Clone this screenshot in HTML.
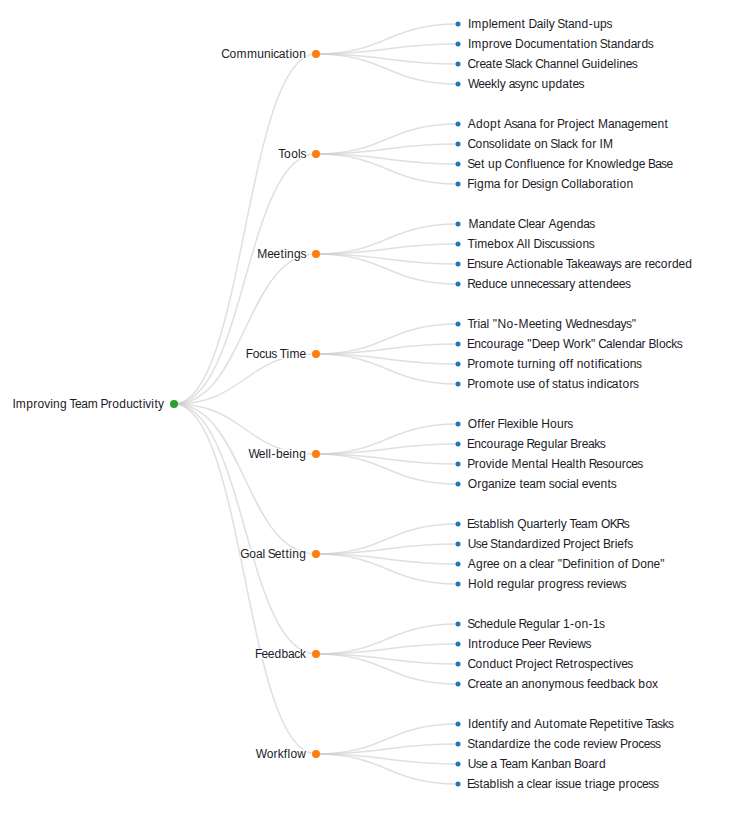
<!DOCTYPE html>
<html lang="en"><head><meta charset="utf-8"><title>Improving Team Productivity</title>
<style>
html,body{margin:0;padding:0;background:#fff;}
body{width:729px;height:813px;overflow:hidden;}
svg{display:block;font-family:"Liberation Sans",sans-serif;font-size:12px;}
.links path{fill:none;stroke:#ccc;stroke-opacity:0.6;stroke-width:1.5;}
text{fill:#1c1c28;}
</style></head><body>
<svg width="729" height="813" viewBox="0 0 729 813">
<g class="links">
<path d="M174,404C245.0,404 245.0,54 316,54"/>
<path d="M316,54C387.0,54 387.0,24.0 458,24.0"/>
<path d="M316,54C387.0,54 387.0,44.0 458,44.0"/>
<path d="M316,54C387.0,54 387.0,64.0 458,64.0"/>
<path d="M316,54C387.0,54 387.0,84.0 458,84.0"/>
<path d="M174,404C245.0,404 245.0,154 316,154"/>
<path d="M316,154C387.0,154 387.0,124.0 458,124.0"/>
<path d="M316,154C387.0,154 387.0,144.0 458,144.0"/>
<path d="M316,154C387.0,154 387.0,164.0 458,164.0"/>
<path d="M316,154C387.0,154 387.0,184.0 458,184.0"/>
<path d="M174,404C245.0,404 245.0,254 316,254"/>
<path d="M316,254C387.0,254 387.0,224.0 458,224.0"/>
<path d="M316,254C387.0,254 387.0,244.0 458,244.0"/>
<path d="M316,254C387.0,254 387.0,264.0 458,264.0"/>
<path d="M316,254C387.0,254 387.0,284.0 458,284.0"/>
<path d="M174,404C245.0,404 245.0,354 316,354"/>
<path d="M316,354C387.0,354 387.0,324.0 458,324.0"/>
<path d="M316,354C387.0,354 387.0,344.0 458,344.0"/>
<path d="M316,354C387.0,354 387.0,364.0 458,364.0"/>
<path d="M316,354C387.0,354 387.0,384.0 458,384.0"/>
<path d="M174,404C245.0,404 245.0,454 316,454"/>
<path d="M316,454C387.0,454 387.0,424.0 458,424.0"/>
<path d="M316,454C387.0,454 387.0,444.0 458,444.0"/>
<path d="M316,454C387.0,454 387.0,464.0 458,464.0"/>
<path d="M316,454C387.0,454 387.0,484.0 458,484.0"/>
<path d="M174,404C245.0,404 245.0,554 316,554"/>
<path d="M316,554C387.0,554 387.0,524.0 458,524.0"/>
<path d="M316,554C387.0,554 387.0,544.0 458,544.0"/>
<path d="M316,554C387.0,554 387.0,564.0 458,564.0"/>
<path d="M316,554C387.0,554 387.0,584.0 458,584.0"/>
<path d="M174,404C245.0,404 245.0,654 316,654"/>
<path d="M316,654C387.0,654 387.0,624.0 458,624.0"/>
<path d="M316,654C387.0,654 387.0,644.0 458,644.0"/>
<path d="M316,654C387.0,654 387.0,664.0 458,664.0"/>
<path d="M316,654C387.0,654 387.0,684.0 458,684.0"/>
<path d="M174,404C245.0,404 245.0,754 316,754"/>
<path d="M316,754C387.0,754 387.0,724.0 458,724.0"/>
<path d="M316,754C387.0,754 387.0,744.0 458,744.0"/>
<path d="M316,754C387.0,754 387.0,764.0 458,764.0"/>
<path d="M316,754C387.0,754 387.0,784.0 458,784.0"/>
</g>
<g class="halos" fill="#fff">
<rect x="11.79" y="399.50" width="152.91" height="9.30" rx="2"/>
<rect x="221.24" y="49.50" width="85.46" height="9.30" rx="2"/>
<rect x="467.30" y="19.50" width="145.46" height="9.30" rx="2"/>
<rect x="467.30" y="39.50" width="186.76" height="9.30" rx="2"/>
<rect x="467.30" y="59.50" width="170.80" height="9.30" rx="2"/>
<rect x="467.30" y="79.50" width="117.40" height="9.30" rx="2"/>
<rect x="278.11" y="149.50" width="28.59" height="9.30" rx="2"/>
<rect x="467.30" y="119.50" width="201.60" height="9.30" rx="2"/>
<rect x="467.30" y="139.50" width="146.89" height="9.30" rx="2"/>
<rect x="467.30" y="159.50" width="206.33" height="9.30" rx="2"/>
<rect x="467.30" y="179.50" width="166.57" height="9.30" rx="2"/>
<rect x="256.06" y="249.50" width="50.64" height="9.30" rx="2"/>
<rect x="467.30" y="219.50" width="128.16" height="9.30" rx="2"/>
<rect x="467.30" y="239.50" width="127.69" height="9.30" rx="2"/>
<rect x="467.30" y="259.50" width="225.54" height="9.30" rx="2"/>
<rect x="467.30" y="279.50" width="163.83" height="9.30" rx="2"/>
<rect x="245.89" y="349.50" width="60.81" height="9.30" rx="2"/>
<rect x="467.30" y="319.50" width="169.58" height="9.30" rx="2"/>
<rect x="467.30" y="339.50" width="215.81" height="9.30" rx="2"/>
<rect x="467.30" y="359.50" width="175.01" height="9.30" rx="2"/>
<rect x="467.30" y="379.50" width="172.03" height="9.30" rx="2"/>
<rect x="247.90" y="449.50" width="58.80" height="9.30" rx="2"/>
<rect x="467.30" y="419.50" width="106.29" height="9.30" rx="2"/>
<rect x="467.30" y="439.50" width="138.78" height="9.30" rx="2"/>
<rect x="467.30" y="459.50" width="176.23" height="9.30" rx="2"/>
<rect x="467.30" y="479.50" width="149.67" height="9.30" rx="2"/>
<rect x="240.20" y="549.50" width="66.50" height="9.30" rx="2"/>
<rect x="467.30" y="519.50" width="162.80" height="9.30" rx="2"/>
<rect x="467.30" y="539.50" width="166.08" height="9.30" rx="2"/>
<rect x="467.30" y="559.50" width="198.16" height="9.30" rx="2"/>
<rect x="467.30" y="579.50" width="159.35" height="9.30" rx="2"/>
<rect x="255.16" y="649.50" width="51.54" height="9.30" rx="2"/>
<rect x="467.30" y="619.50" width="137.91" height="9.30" rx="2"/>
<rect x="467.30" y="639.50" width="124.49" height="9.30" rx="2"/>
<rect x="467.30" y="659.50" width="166.21" height="9.30" rx="2"/>
<rect x="467.30" y="679.50" width="191.18" height="9.30" rx="2"/>
<rect x="255.23" y="749.50" width="51.47" height="9.30" rx="2"/>
<rect x="467.30" y="719.50" width="206.89" height="9.30" rx="2"/>
<rect x="467.30" y="739.50" width="193.91" height="9.30" rx="2"/>
<rect x="467.30" y="759.50" width="139.16" height="9.30" rx="2"/>
<rect x="467.30" y="779.50" width="192.04" height="9.30" rx="2"/>
</g>
<g class="nodes">
<circle cx="174" cy="404" r="4" fill="#2ca02c"/>
<circle cx="316" cy="54" r="4" fill="#ff7f0e"/>
<circle cx="458" cy="24.0" r="2.5" fill="#1f77b4"/>
<circle cx="458" cy="44.0" r="2.5" fill="#1f77b4"/>
<circle cx="458" cy="64.0" r="2.5" fill="#1f77b4"/>
<circle cx="458" cy="84.0" r="2.5" fill="#1f77b4"/>
<circle cx="316" cy="154" r="4" fill="#ff7f0e"/>
<circle cx="458" cy="124.0" r="2.5" fill="#1f77b4"/>
<circle cx="458" cy="144.0" r="2.5" fill="#1f77b4"/>
<circle cx="458" cy="164.0" r="2.5" fill="#1f77b4"/>
<circle cx="458" cy="184.0" r="2.5" fill="#1f77b4"/>
<circle cx="316" cy="254" r="4" fill="#ff7f0e"/>
<circle cx="458" cy="224.0" r="2.5" fill="#1f77b4"/>
<circle cx="458" cy="244.0" r="2.5" fill="#1f77b4"/>
<circle cx="458" cy="264.0" r="2.5" fill="#1f77b4"/>
<circle cx="458" cy="284.0" r="2.5" fill="#1f77b4"/>
<circle cx="316" cy="354" r="4" fill="#ff7f0e"/>
<circle cx="458" cy="324.0" r="2.5" fill="#1f77b4"/>
<circle cx="458" cy="344.0" r="2.5" fill="#1f77b4"/>
<circle cx="458" cy="364.0" r="2.5" fill="#1f77b4"/>
<circle cx="458" cy="384.0" r="2.5" fill="#1f77b4"/>
<circle cx="316" cy="454" r="4" fill="#ff7f0e"/>
<circle cx="458" cy="424.0" r="2.5" fill="#1f77b4"/>
<circle cx="458" cy="444.0" r="2.5" fill="#1f77b4"/>
<circle cx="458" cy="464.0" r="2.5" fill="#1f77b4"/>
<circle cx="458" cy="484.0" r="2.5" fill="#1f77b4"/>
<circle cx="316" cy="554" r="4" fill="#ff7f0e"/>
<circle cx="458" cy="524.0" r="2.5" fill="#1f77b4"/>
<circle cx="458" cy="544.0" r="2.5" fill="#1f77b4"/>
<circle cx="458" cy="564.0" r="2.5" fill="#1f77b4"/>
<circle cx="458" cy="584.0" r="2.5" fill="#1f77b4"/>
<circle cx="316" cy="654" r="4" fill="#ff7f0e"/>
<circle cx="458" cy="624.0" r="2.5" fill="#1f77b4"/>
<circle cx="458" cy="644.0" r="2.5" fill="#1f77b4"/>
<circle cx="458" cy="664.0" r="2.5" fill="#1f77b4"/>
<circle cx="458" cy="684.0" r="2.5" fill="#1f77b4"/>
<circle cx="316" cy="754" r="4" fill="#ff7f0e"/>
<circle cx="458" cy="724.0" r="2.5" fill="#1f77b4"/>
<circle cx="458" cy="744.0" r="2.5" fill="#1f77b4"/>
<circle cx="458" cy="764.0" r="2.5" fill="#1f77b4"/>
<circle cx="458" cy="784.0" r="2.5" fill="#1f77b4"/>
</g>
<g class="labels">
<text x="12.42 15.85 26.21 33.16 37.43 44.16 50.15 52.99 59.91 66.75 69.54 74.98 81.17 87.73 97.88 100.55 108.00 112.27 119.31 126.23 132.73 138.87 142.69 145.35 151.35 154.50 158.10" y="408">Improving Team Productivity</text>
<text x="221.32 229.55 236.58 246.91 257.14 263.92 270.77 273.33 278.82 285.57 289.39 292.36 299.27" y="58">Communication</text>
<text x="467.93 471.36 481.72 488.70 491.29 497.94 507.91 514.44 521.54 525.22 528.40 536.66 543.17 546.08 548.77 554.64 557.14 564.69 568.10 574.55 581.47 588.74 593.19 600.11 606.52" y="28.0">Implement Daily Stand-ups</text>
<text x="467.93 471.36 481.72 488.67 492.94 499.67 505.34 511.80 514.99 523.71 530.34 536.17 543.06 553.03 559.57 566.66 570.08 576.83 580.66 583.62 590.53 597.24 599.73 607.29 610.70 617.15 624.07 630.65 637.12 641.40 647.81" y="48.0">Improve Documentation Standards</text>
<text x="467.38 475.52 479.41 485.60 492.35 495.86 502.31 504.81 512.11 514.61 520.78 526.53 532.49 535.18 543.28 549.73 556.17 562.96 569.49 576.09 578.85 581.62 590.46 597.31 600.28 606.95 613.55 616.46 619.30 625.83 631.85" y="68.0">Create Slack Channel Guidelines</text>
<text x="467.93 478.23 484.51 490.97 497.07 499.76 505.63 508.66 514.60 520.04 526.00 532.50 538.25 541.61 548.53 555.59 562.17 568.92 572.43 578.45" y="88.0">Weekly async updates</text>
<text x="278.29 284.11 291.15 298.12 300.45" y="158">Tools</text>
<text x="467.87 475.93 482.98 490.02 497.25 500.93 504.11 511.53 516.79 523.23 529.68 536.04 539.57 543.29 550.24 554.30 556.97 564.42 568.69 575.66 578.25 584.50 590.64 594.32 598.02 608.12 614.56 621.01 627.59 634.26 640.90 650.87 657.41 664.50" y="128.0">Adopt Asana for Project Management</text>
<text x="467.38 475.61 482.52 488.80 494.53 501.50 504.41 507.38 513.96 520.72 524.22 530.68 534.17 541.08 547.79 550.28 557.59 560.09 566.25 572.00 577.96 581.48 585.21 592.15 596.21 599.46 603.11" y="148.0">Consolidate on Slack for IM</text>
<text x="467.18 474.17 481.02 484.69 488.06 494.98 501.82 504.51 512.74 519.65 526.59 530.26 533.10 539.63 546.17 552.67 558.24 564.70 568.22 571.95 578.89 582.95 585.74 593.28 600.19 607.04 615.82 618.41 625.08 632.14 638.80 645.26 648.01 655.16 661.10 666.45" y="168.0">Set up Confluence for Knowledge Base</text>
<text x="467.26 473.97 476.95 483.98 493.87 500.23 503.75 507.48 514.42 518.48 521.67 530.02 536.04 541.71 544.68 551.60 558.31 561.00 569.23 576.21 579.11 581.62 588.20 595.24 602.19 605.99 612.74 616.56 619.53 626.44" y="188.0">Figma for Design Collaboration</text>
<text x="257.15 267.34 273.62 280.46 284.28 287.12 294.04 300.45" y="258">Meetings</text>
<text x="468.39 478.49 484.94 491.86 498.44 505.19 508.70 515.15 517.84 526.01 528.60 534.79 541.27 545.33 548.51 556.57 563.24 569.77 576.69 583.27 589.21" y="228.0">Mandate Clear Agendas</text>
<text x="467.48 474.41 477.36 487.33 494.00 501.05 507.66 513.39 516.57 524.56 527.46 530.23 533.41 542.08 544.41 549.73 555.55 561.83 566.92 572.59 575.55 582.47 588.74" y="248.0">Timebox All Discussions</text>
<text x="467.03 474.13 480.40 486.00 492.82 496.71 503.16 506.34 513.98 520.12 523.94 526.91 533.82 540.27 546.85 553.83 556.42 562.88 565.66 571.02 577.39 583.17 589.37 595.75 604.13 610.42 615.86 621.39 624.41 630.89 634.78 641.23 644.63 648.52 654.77 660.72 667.66 671.94 678.61 685.27" y="268.0">Ensure Actionable Takeaways are recorded</text>
<text x="467.26 474.98 481.65 488.57 495.07 500.65 507.10 510.47 517.25 524.04 530.57 536.82 542.39 548.42 553.51 558.77 565.25 569.23 575.11 578.14 584.89 588.96 592.46 599.00 605.92 612.58 618.86 624.89" y="288.0">Reduce unnecessary attendees</text>
<text x="245.85 252.63 259.25 265.08 271.36 276.88 279.67 286.60 289.55 299.52" y="358">Focus Time</text>
<text x="467.48 473.26 477.47 479.97 486.48 489.24 492.77 497.41 506.41 513.67 518.46 528.65 534.93 541.77 545.59 548.43 555.35 562.20 565.44 575.73 582.40 589.32 595.85 601.88 607.61 614.19 620.48 625.93 631.70" y="328.0">Trial "No-Meeting Wednesdays"</text>
<text x="467.03 474.13 480.63 486.58 493.49 500.31 504.11 510.69 517.36 523.81 527.34 531.70 540.05 546.33 553.00 559.84 563.08 573.87 580.82 584.88 591.09 595.55 598.24 606.00 612.51 615.10 621.64 628.56 635.14 641.61 645.67 648.42 655.98 658.95 665.58 671.33 676.86" y="348.0">Encourage "Deep Work" Calendar Blocks</text>
<text x="467.36 474.81 479.08 486.11 496.45 503.67 507.18 513.63 517.31 521.07 527.88 532.02 538.87 541.71 548.63 555.47 558.97 566.03 569.79 573.31 576.68 583.59 590.81 594.63 597.63 601.29 603.85 609.34 616.09 619.91 622.88 629.79 636.07" y="368.0">Promote turning off notifications</text>
<text x="467.36 474.81 479.08 486.11 496.45 503.67 507.18 513.63 517.00 523.27 528.62 535.08 538.57 545.64 549.16 552.01 557.93 561.34 568.10 571.85 578.13 583.65 587.08 589.92 596.84 603.83 606.39 611.87 618.63 622.51 629.46 633.08" y="388.0">Promote use of status indicators</text>
<text x="248.53 258.83 265.43 268.33 271.52 276.11 282.78 289.37 292.22 299.14" y="458">Well-being</text>
<text x="467.86 477.26 481.01 484.36 490.93 494.99 497.56 504.27 506.86 513.09 518.97 521.94 528.93 531.52 537.97 541.21 549.98 556.90 563.71 567.34" y="428.0">Offer Flexible Hours</text>
<text x="467.03 474.13 480.63 486.58 493.49 500.31 504.11 510.69 517.36 523.81 526.38 534.10 540.77 547.69 554.54 557.04 563.52 567.58 570.33 577.86 581.75 587.94 594.31 599.84" y="448.0">Encourage Regular Breaks</text>
<text x="467.36 474.81 479.08 485.81 491.80 494.78 501.45 507.90 511.60 521.79 528.33 535.42 538.84 545.35 548.11 551.35 559.74 565.94 572.45 575.60 579.35 586.06 588.63 596.35 602.38 608.10 615.01 621.83 625.69 631.26 637.29" y="468.0">Provide Mental Health Resources</text>
<text x="467.86 477.13 481.41 487.99 494.43 501.28 503.78 509.30 515.75 519.43 522.93 529.13 535.69 545.83 548.69 554.41 561.04 566.93 569.43 575.94 578.71 581.82 588.17 593.85 600.38 607.48 610.73" y="488.0">Organize team social events</text>
<text x="240.35 249.32 255.89 262.40 265.16 267.65 274.64 281.49 285.55 289.37 292.22 299.14" y="558">Goal Setting</text>
<text x="467.03 473.62 479.53 482.94 489.52 496.51 499.42 501.75 507.35 514.05 517.22 526.47 532.91 539.39 543.84 547.34 553.91 558.11 560.80 566.68 569.47 574.91 581.10 587.66 597.80 600.97 609.64 616.38 623.85" y="528.0">Establish Quarterly Team OKRs</text>
<text x="467.79 475.79 481.14 487.59 490.09 497.64 501.06 507.50 514.42 521.00 527.48 531.75 538.74 541.24 546.75 553.42 560.26 562.93 570.39 574.65 581.63 584.22 590.47 596.60 600.28 603.03 610.56 614.76 617.35 624.04 627.13" y="548.0">Use Standardized Project Briefs</text>
<text x="467.87 475.93 482.88 486.77 493.05 499.51 503.00 509.91 516.62 519.64 526.01 529.09 534.98 537.57 543.76 550.24 554.30 557.84 562.20 570.54 577.23 580.90 583.74 590.59 593.74 597.56 600.53 607.44 614.14 617.64 624.70 628.22 631.41 640.14 647.05 653.58 660.28" y="568.0">Agree on a clear "Definition of Done"</text>
<text x="467.93 476.70 483.68 486.65 493.49 496.89 500.78 507.45 514.37 521.22 523.72 530.20 534.26 537.76 544.71 548.98 556.02 562.97 566.86 572.89 577.98 583.50 586.90 590.79 597.14 603.13 605.72 612.19 620.40" y="588.0">Hold regular progress reviews</text>
<text x="255.12 261.52 267.80 274.47 281.52 288.10 294.26 300.02" y="658">Feedback</text>
<text x="467.18 474.14 479.97 486.50 493.17 500.09 506.94 509.53 515.98 518.55 526.27 532.94 539.86 546.71 549.21 555.69 559.75 562.96 569.93 574.51 581.42 588.55 592.85 598.97" y="628.0">Schedule Regular 1-on-1s</text>
<text x="467.93 471.25 478.34 482.13 486.40 493.44 500.36 506.87 512.44 518.89 521.57 528.74 535.02 541.58 545.64 548.21 555.93 562.29 568.28 570.87 577.34 585.55" y="648.0">Introduce Peer Reviews</text>
<text x="467.38 475.61 482.52 489.44 496.36 502.86 509.00 512.68 515.35 522.80 527.07 534.04 536.63 542.88 549.02 552.70 555.26 562.99 569.83 573.62 577.89 584.29 590.02 596.69 602.94 609.08 612.90 615.56 621.24 627.26" y="668.0">Conduct Project Retrospectives</text>
<text x="467.38 475.52 479.41 485.60 492.35 495.86 502.31 505.34 511.78 518.49 521.52 527.96 534.87 541.78 548.41 554.48 564.83 571.74 578.02 583.54 587.06 590.41 596.69 603.36 610.42 617.00 623.16 628.91 634.87 638.37 645.42 652.03" y="688.0">Create an anonymous feedback box</text>
<text x="255.86 266.65 273.60 277.66 283.86 287.52 290.49 297.34" y="758">Workflow</text>
<text x="467.93 471.38 478.05 484.58 491.68 495.50 498.50 501.94 507.82 510.85 517.29 524.21 531.05 534.23 542.16 549.25 553.14 560.16 570.04 576.80 580.30 586.76 589.32 597.05 603.72 610.39 617.23 621.05 624.20 628.02 630.68 636.36 642.81 645.60 650.96 656.89 662.42 667.95" y="728.0">Identify and Automate Repetitive Tasks</text>
<text x="467.18 474.74 478.15 484.60 491.52 498.10 504.57 508.85 515.83 518.33 523.85 530.30 533.98 537.74 544.27 550.72 553.80 559.76 566.80 573.47 579.93 583.32 587.21 593.56 599.56 602.15 608.62 617.26 619.93 627.38 631.65 638.27 643.85 649.87 654.96" y="748.0">Standardize the code review Process</text>
<text x="467.79 475.79 481.14 487.59 490.62 496.99 499.78 505.22 511.41 517.97 528.11 530.90 538.10 544.55 551.47 558.05 564.50 571.20 573.95 581.57 588.14 594.62 598.90" y="768.0">Use a Team Kanban Board</text>
<text x="467.03 473.62 479.53 482.94 489.52 496.51 499.42 501.75 507.35 514.05 517.08 523.45 526.53 532.42 535.01 541.20 547.68 551.74 555.17 557.50 562.60 568.20 574.73 581.19 584.86 588.65 592.85 595.36 601.94 608.60 615.06 618.56 625.51 629.78 636.40 641.98 648.00 653.09" y="788.0">Establish a clear issue triage process</text>
</g>
</svg>
</body></html>
